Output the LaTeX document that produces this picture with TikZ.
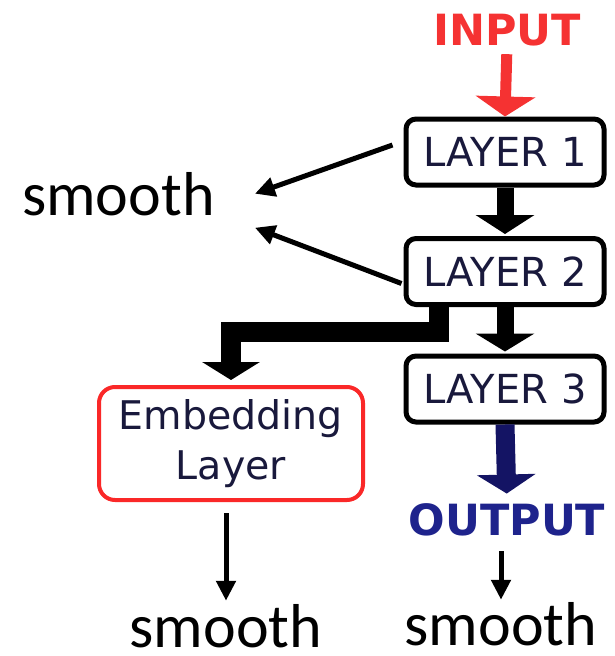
\documentclass[tikz,border=0pt]{standalone}
\usepackage{fontspec}
\setmainfont{DejaVu Sans}
\newfontfamily\calfont{Carlito}
\usetikzlibrary{arrows.meta}
\definecolor{inred}{RGB}{245,50,50}
\definecolor{embred}{RGB}{250,40,40}
\definecolor{navyarrow}{RGB}{20,20,100}
\definecolor{outblue}{RGB}{30,35,140}
\definecolor{boxtext}{RGB}{25,25,60}
\begin{document}
\begin{tikzpicture}[x=1pt,y=-1pt,
  layerbox/.style={draw=black, line width=5pt, rounded corners=10pt,
    minimum width=198pt, minimum height=66pt, inner sep=0pt,
    text=boxtext, font=\fontsize{40}{47}\selectfont},
  embbox/.style={draw=embred, line width=4pt, rounded corners=16pt,
    minimum width=264pt, minimum height=113pt, inner sep=0pt,
    align=center, text=boxtext, font=\fontsize{39.5}{50}\selectfont},
  bigword/.style={inner sep=0pt, font=\bfseries\fontsize{43}{50}\selectfont},
  smoothtxt/.style={inner sep=0pt, font=\calfont\fontsize{62}{70}\selectfont},
  thinarrow/.style={line width=5pt, -{Triangle[width=19pt,length=20pt]}},
  fatarrow/.style={line width=#1, line cap=butt, line join=miter}
]
\useasboundingbox (0,0) rectangle (614,656);

% texts
\node[bigword, text=inred] (IN) at (507,30) {INPUT};
\node[bigword, text=outblue] (OUT) at (507,520) {OUTPUT};

% boxes
\node[layerbox] (L1) at (505,152) {LAYER 1};
\node[layerbox] (L2) at (505,271.5) {LAYER 2};
\node[layerbox] (L3) at (505,389) {LAYER 3};
\node[embbox] (E) at (231,443.5) {Embedding\\Layer};

% smooth labels
\node[smoothtxt, anchor=base west] (S1) at (22,215) {smooth};
\node[smoothtxt, anchor=base] (S2) at (226,647) {smooth};
\node[smoothtxt, anchor=base] (S3) at (501,645) {smooth};

% fat arrows
\draw[fatarrow=11pt, inred, -{Triangle[width=59pt,length=20pt]},
      shorten <=8pt] (IN.south) -- (L1.north);
\draw[fatarrow=17pt, black, -{Triangle[width=58pt,length=19pt]},
      shorten >=2pt] (L1.south) -- (L2.north);
\draw[fatarrow=17pt, black, -{Triangle[width=58pt,length=18pt]},
      shorten >=2pt] (L2.south) -- (L3.north);
\coordinate (e1) at (439,332);
\draw[fatarrow=20pt, black, -{Triangle[width=57pt,length=18pt]},
      shorten >=5pt] (L2.south -| e1) -- (e1) -| (E.north);
\draw[fatarrow=19pt, navyarrow, -{Triangle[width=58pt,length=19pt]},
      shorten >=10pt] (L3.south) -- (OUT.north);

% thin arrows
\draw[thinarrow] ([xshift=-11pt,yshift=7pt]L1.west) -- ([xshift=40pt]S1.east);
\draw[thinarrow] ([xshift=-2pt,yshift=-12pt]L2.west) -- ([xshift=40pt,yshift=-34pt]S1.east);
\draw[thinarrow, shorten <=11pt, shorten >=3pt] (S2.north |- E.south) -- (S2.north);
\draw[thinarrow, shorten <=15pt, shorten >=2pt] (S3.north |- OUT.south) -- (S3.north);
\end{tikzpicture}
\end{document}
